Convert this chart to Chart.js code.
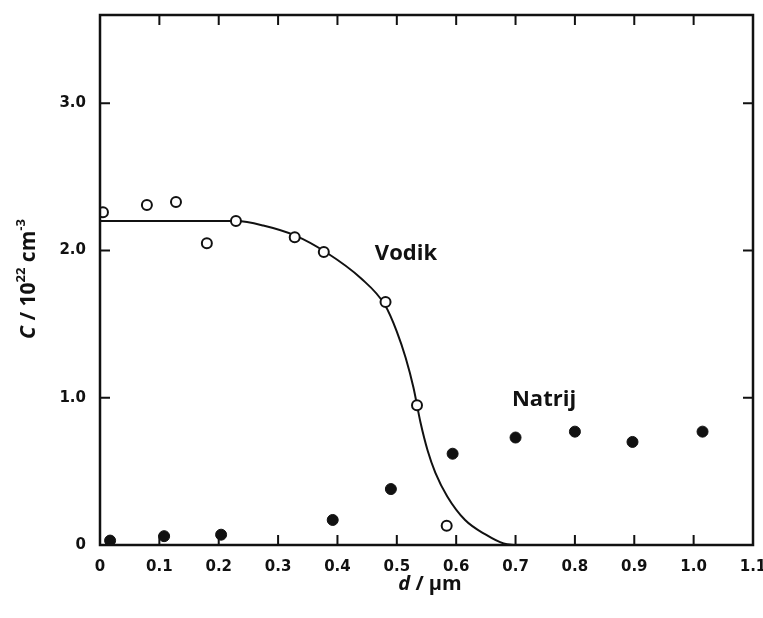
<!DOCTYPE html>
<html>
<head>
<meta charset="utf-8">
<script src="https://cdn.jsdelivr.net/npm/chart.js@4"></script>
<style>
  html, body { margin: 0; padding: 0; background: #fff; }
  #wrap { width: 763px; height: 618px; }
</style>
</head>
<body>
<div id="wrap"><canvas id="sims"></canvas></div>
<script>
// measured points (d in um, C in 1e22 cm^-3)
const vodikX = [0.005, 0.079, 0.128, 0.18, 0.229, 0.328, 0.377, 0.481, 0.534, 0.584];
const vodikY = [2.26, 2.31, 2.33, 2.05, 2.20, 2.09, 1.99, 1.65, 0.95, 0.13];

const natrijX = [0.017, 0.108, 0.204, 0.392, 0.49, 0.594, 0.70, 0.80, 0.897, 1.015];
const natrijY = [0.03, 0.06, 0.07, 0.17, 0.38, 0.62, 0.73, 0.77, 0.70, 0.77];

// fitted profile for hydrogen
const curveX = [0, 0.1, 0.2, 0.23, 0.275, 0.33, 0.38, 0.44, 0.48, 0.50, 0.515, 0.528, 0.54, 0.552, 0.565, 0.585, 0.615, 0.65, 0.68, 0.70];
const curveY = [2.2, 2.2, 2.2, 2.2, 2.17, 2.1, 1.99, 1.81, 1.63, 1.45, 1.27, 1.07, 0.83, 0.64, 0.49, 0.33, 0.17, 0.07, 0.01, 0.0];

const xTicks = [0, 0.1, 0.2, 0.3, 0.4, 0.5, 0.6, 0.7, 0.8, 0.9, 1.0, 1.1];
const yTicks = [0, 1, 2, 3];

const pts = (xs, ys) => xs.map((x, i) => ({ x: x, y: ys[i] }));

const frame = {
  id: 'frame',
  afterDraw(chart) {
    const c = chart.ctx, a = chart.chartArea;
    const sx = chart.scales.x, sy = chart.scales.y;
    c.save();
    c.strokeStyle = '#111';
    c.lineWidth = 2.5;
    c.strokeRect(a.left, a.top, a.right - a.left, a.bottom - a.top);
    c.lineWidth = 2;
    c.beginPath();
    xTicks.forEach(v => {
      const px = sx.getPixelForValue(v);
      c.moveTo(px, a.bottom); c.lineTo(px, a.bottom - 10);
      c.moveTo(px, a.top); c.lineTo(px, a.top + 10);
    });
    yTicks.forEach(v => {
      const py = sy.getPixelForValue(v);
      c.moveTo(a.left, py); c.lineTo(a.left + 10, py);
      c.moveTo(a.right, py); c.lineTo(a.right - 10, py);
    });
    c.stroke();

    // series labels
    c.fillStyle = '#111';
    c.font = 'bold 22px "Open Sans"';
    c.textAlign = 'left';
    c.textBaseline = 'middle';
    c.fillText('Vodik', sx.getPixelForValue(0.463), sy.getPixelForValue(1.98));
    c.fillText('Natrij', sx.getPixelForValue(0.694), sy.getPixelForValue(0.99));

    // x title
    const xt = 430;
    c.font = 'italic bold 20px "Open Sans"';
    let w1 = c.measureText('d').width;
    c.font = 'bold 20px "Open Sans"';
    let w2 = c.measureText(' / µm').width;
    let x0 = xt - (w1 + w2) / 2;
    c.font = 'italic bold 20px "Open Sans"';
    c.fillText('d', x0, 584);
    c.font = 'bold 20px "Open Sans"';
    c.fillText(' / µm', x0 + w1, 584);

    // y title, rotated
    c.translate(29, 279);
    c.rotate(-Math.PI / 2);
    const parts = [
      ['C', 'italic bold 21px "Open Sans"', 0],
      [' / 10', 'bold 21px "Open Sans"', 0],
      ['22', 'bold 13px "Open Sans"', -8],
      [' cm', 'bold 21px "Open Sans"', 0],
      ['-3', 'bold 13px "Open Sans"', -8]
    ];
    let tw = 0;
    parts.forEach(p => { c.font = p[1]; tw += c.measureText(p[0]).width; });
    let cx = -tw / 2;
    parts.forEach(p => {
      c.font = p[1];
      c.fillText(p[0], cx, p[2]);
      cx += c.measureText(p[0]).width;
    });
    c.restore();
  }
};

new Chart(document.getElementById('sims'), {
  type: 'scatter',
  data: {
    datasets: [
      {
        label: 'fit',
        type: 'line',
        data: pts(curveX, curveY),
        borderColor: '#111',
        borderWidth: 2,
        pointRadius: 0,
        fill: false,
        cubicInterpolationMode: 'monotone',
        order: 3
      },
      {
        label: 'Vodik',
        data: pts(vodikX, vodikY),
        pointStyle: 'circle',
        pointRadius: 5,
        pointBorderWidth: 2,
        pointBorderColor: '#111',
        pointBackgroundColor: '#fff',
        order: 1
      },
      {
        label: 'Natrij',
        data: pts(natrijX, natrijY),
        pointStyle: 'circle',
        pointRadius: 5.5,
        pointBorderWidth: 1,
        pointBorderColor: '#111',
        pointBackgroundColor: '#111',
        order: 2
      }
    ]
  },
  options: {
    responsive: true,
    maintainAspectRatio: false,
    animation: false,
    layout: { padding: { left: 0, right: 10, top: 15, bottom: 0 } },
    plugins: {
      legend: { display: false },
      tooltip: { enabled: false }
    },
    scales: {
      x: {
        type: 'linear',
        min: 0,
        max: 1.1,
        afterFit: s => { s.height = 73; s.paddingRight = 0; s.paddingLeft = 0; },
        afterBuildTicks: s => { s.ticks = xTicks.map(v => ({ value: v })); },
        grid: { display: false },
        border: { display: false },
        ticks: {
          autoSkip: false,
          maxRotation: 0,
          padding: 5,
          color: '#111',
          font: { family: '"DejaVu Sans"', size: 15, weight: 'bold' },
          callback: v => v === 0 ? '0' : v.toFixed(1)
        }
      },
      y: {
        type: 'linear',
        min: 0,
        max: 3.6,
        afterFit: s => { s.width = 100; s.paddingTop = 0; s.paddingBottom = 0; },
        afterBuildTicks: s => { s.ticks = yTicks.map(v => ({ value: v })); },
        grid: { display: false },
        border: { display: false },
        ticks: {
          padding: 6,
          color: '#111',
          font: { family: '"DejaVu Sans"', size: 15, weight: 'bold' },
          callback: v => v === 0 ? '0' : v.toFixed(1)
        }
      }
    }
  },
  plugins: [frame]
});
</script>
</body>
</html>
